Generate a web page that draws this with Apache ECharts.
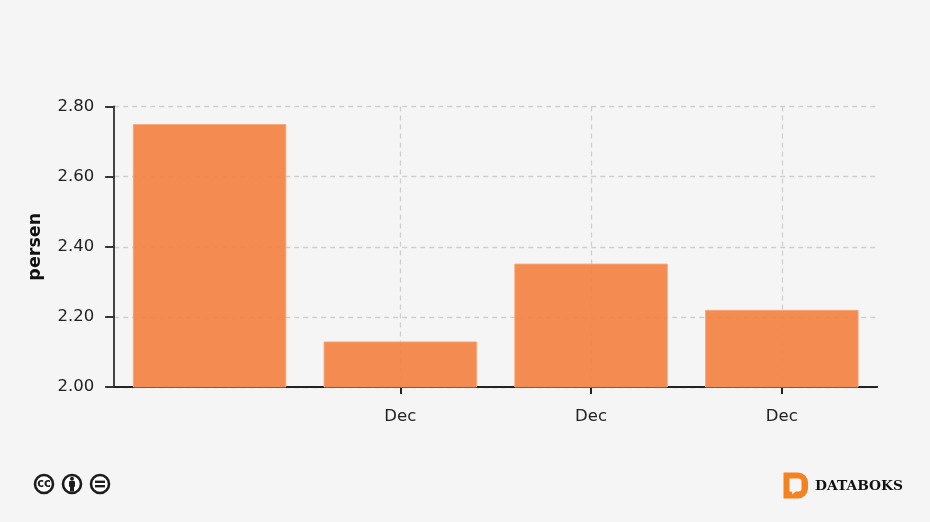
<!DOCTYPE html>
<html>
<head>
<meta charset="utf-8">
<style>
html,body{margin:0;padding:0;background:#f5f5f5}
#chart{width:930px;height:522px}
</style>
<script src="https://cdn.jsdelivr.net/npm/echarts@6/dist/echarts.min.js"></script>
</head>
<body>
<div id="chart"></div>
<script>
const categories = ['', 'Dec', 'Dec', 'Dec']
const values = [2.75, 2.13, 2.352, 2.22]
const yMin = 2
const yMax = 2.8
const yStep = 0.2
const yName = 'persen'

const fontFamily = '"DejaVu Sans", Verdana, sans-serif'
const ink = '#222'

// cc icons under the chart
function badge(cx, cy, inner) {
  return {
    type: 'group',
    x: cx,
    y: cy,
    children: [
      { type: 'circle', shape: { cx: 0, cy: 0, r: 9 }, style: { fill: '#fff', stroke: '#1c1c1c', lineWidth: 2.6 } },
    ].concat(inner),
  }
}

const ccIcon = badge(44, 484, [
  { type: 'text', style: { x: 0, y: 0, text: 'cc', align: 'center', verticalAlign: 'middle', font: 'bold 11.5px "DejaVu Sans"', fill: '#1c1c1c' } },
])
const byIcon = badge(72, 484, [
  { type: 'circle', shape: { cx: 0, cy: -5.2, r: 2 }, style: { fill: '#1c1c1c' } },
  { type: 'rect', shape: { x: -3, y: -3, width: 6, height: 6, r: 1 }, style: { fill: '#1c1c1c' } },
  { type: 'rect', shape: { x: -2, y: 2, width: 4, height: 5.5 }, style: { fill: '#1c1c1c' } },
])
const ndIcon = badge(100, 484, [
  { type: 'rect', shape: { x: -5, y: -3.4, width: 10, height: 2.4 }, style: { fill: '#1c1c1c' } },
  { type: 'rect', shape: { x: -5, y: 1, width: 10, height: 2.4 }, style: { fill: '#1c1c1c' } },
])

// databoks mark
const logo = {
  type: 'group',
  x: 783.5,
  y: 472.5,
  children: [
    { type: 'rect', shape: { x: 0, y: 0, width: 24.5, height: 26, r: [0, 10, 10, 0] }, style: { fill: '#f58220' } },
    { type: 'rect', shape: { x: 6, y: 6, width: 12, height: 13, r: [0, 3, 3, 0] }, style: { fill: '#f5f5f5' } },
    { type: 'polygon', shape: { points: [[8, 18], [13, 18], [9, 22]] }, style: { fill: '#f5f5f5' } },
  ],
}

const chart = echarts.init(document.getElementById('chart'), null, { renderer: 'canvas' })
chart.setOption({
  backgroundColor: '#f5f5f5',
  animation: false,
  grid: { left: 114.2, right: 52.8, top: 106.5, bottom: 135 },
  xAxis: {
    type: 'category',
    data: categories,
    axisLine: { onZero: false, lineStyle: { color: '#222', width: 2 } },
    axisTick: {
      show: true,
      alignWithLabel: true,
      length: 7,
      interval: i => i > 0,
      lineStyle: { color: '#222', width: 2 },
    },
    axisLabel: { color: ink, fontFamily, fontSize: 16.5, margin: 21, interval: 0 },
    splitLine: {
      show: true,
      alignWithLabel: true,
      interval: i => i > 0,
      lineStyle: { color: '#cfcfcf', type: [5, 4], width: 1.3 },
    },
  },
  yAxis: {
    type: 'value',
    min: yMin,
    max: yMax,
    interval: yStep,
    name: yName,
    nameLocation: 'middle',
    nameGap: 70,
    nameTextStyle: { color: '#111', fontFamily, fontSize: 17.5, fontWeight: 'bold' },
    axisLine: { show: true, lineStyle: { color: '#444', width: 2 } },
    axisTick: { show: true, length: 9, lineStyle: { color: '#333', width: 2 } },
    axisLabel: { color: ink, fontFamily, fontSize: 16.5, margin: 20, padding: [2, 0, 0, 0], formatter: v => v.toFixed(2) },
    splitLine: {
      show: true,
      lineStyle: { color: '#cfcfcf', type: [5, 4], width: 1.3 },
    },
  },
  series: [
    {
      type: 'bar',
      data: values,
      barWidth: '80.5%',
      itemStyle: { color: '#f4803f', borderColor: '#f8a878', borderWidth: 1, opacity: 0.9 },
    },
  ],
  graphic: [
    ccIcon,
    byIcon,
    ndIcon,
    logo,
    {
      type: 'text',
      x: 815,
      y: 486,
      style: { text: 'DATABOKS', align: 'left', verticalAlign: 'middle', font: 'bold 13.8px "DejaVu Serif"', fill: '#111' },
    },
  ],
})
</script>
</body>
</html>
